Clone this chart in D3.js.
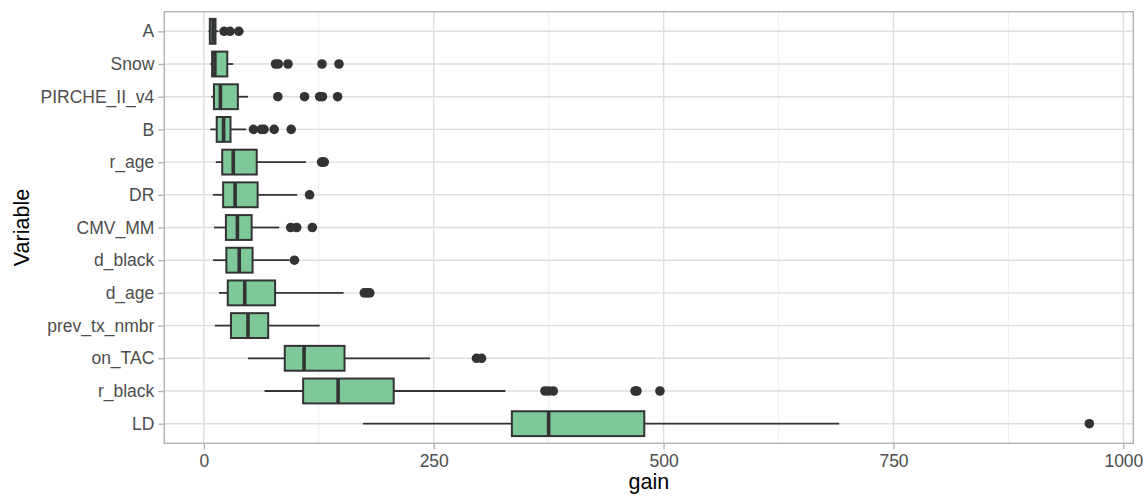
<!DOCTYPE html>
<html>
<head>
<meta charset="utf-8">
<script src="https://cdn.jsdelivr.net/npm/d3@7"></script>
<style>
  html, body { margin: 0; padding: 0; background: #ffffff; }
  svg { display: block; font-family: "Liberation Sans", Arial, sans-serif; }
</style>
</head>
<body>
<svg id="chart" width="1146" height="497"></svg>
<script>
// ---- data ----
const categories = ["A", "Snow", "PIRCHE_II_v4", "B", "r_age", "DR", "CMV_MM", "d_black", "d_age", "prev_tx_nmbr", "on_TAC", "r_black", "LD"];
const whiskerLow  = [5,   7,    8,    7,    13,   10,    11,   10,   16.5, 12,  48,  66,  173];
const q1Values    = [6.5, 9,    11,   14,   20,   21,    24,   24.5, 26,   29.5, 88, 108, 335];
const medians     = [10,  12,   18,   21.5, 32,   34,    36.5, 38.5, 44.5, 48,  109, 146, 375];
const q3Values    = [12.7,25.5, 37,   29,   57.5, 58.5,  52,   53,   77.5, 70,  153, 206.5, 479];
const whiskerHigh = [16,  32,   48,   46,   111,  101.5, 82,   93,   152,  126, 246, 328, 691];
const outliers = [
  [22, 28.5, 38],
  [78, 81, 91.5, 128.5, 147],
  [80.5, 109.5, 126, 129, 145.5],
  [54, 62.5, 65.5, 76.5, 95],
  [128, 129.5, 131],
  [115],
  [94.5, 101, 118],
  [98.5],
  [174.5, 177.5, 180.5],
  [],
  [296.5, 302],
  [371, 375, 380, 469, 471, 496],
  [963]
];
const xTicks = [0, 250, 500, 750, 1000];
const xMinor = [125, 375, 625, 875];
const xTitle = "gain";
const yTitle = "Variable";

// ---- layout ----
const panel = { left: 164.3, right: 1133.3, top: 11.7, bottom: 443.3 };
const svg = d3.select("#chart");

const x = d3.scaleLinear().domain([-43, 1010.8]).range([panel.left, panel.right]);
const y = d3.scalePoint().domain(categories).range([panel.top, panel.bottom]).padding(0.6);
const step = y.step();
const boxH = step * 0.76;

const grid = svg.append("g");
grid.selectAll("line.minor").data(xMinor).join("line")
  .attr("x1", d => x(d)).attr("x2", d => x(d))
  .attr("y1", panel.top).attr("y2", panel.bottom)
  .attr("stroke", "#ebebeb").attr("stroke-width", 0.8);
grid.selectAll("line.majx").data(xTicks).join("line")
  .attr("x1", d => x(d)).attr("x2", d => x(d))
  .attr("y1", panel.top).attr("y2", panel.bottom)
  .attr("stroke", "#dedede").attr("stroke-width", 1.4);
grid.selectAll("line.majy").data(categories).join("line")
  .attr("x1", panel.left).attr("x2", panel.right)
  .attr("y1", d => y(d)).attr("y2", d => y(d))
  .attr("stroke", "#dedede").attr("stroke-width", 1.4);

const rows = categories.map((c, i) => ({
  c, lo: whiskerLow[i], q1: q1Values[i], med: medians[i], q3: q3Values[i], hi: whiskerHigh[i], out: outliers[i]
}));

const dark = "#333333";
const g = svg.append("g");
g.selectAll("line.wl").data(rows).join("line")
  .attr("x1", d => x(d.lo)).attr("x2", d => x(d.q1))
  .attr("y1", d => y(d.c)).attr("y2", d => y(d.c))
  .attr("stroke", dark).attr("stroke-width", 1.8);
g.selectAll("line.wh").data(rows).join("line")
  .attr("x1", d => x(d.q3)).attr("x2", d => x(d.hi))
  .attr("y1", d => y(d.c)).attr("y2", d => y(d.c))
  .attr("stroke", dark).attr("stroke-width", 1.8);
g.selectAll("rect.box").data(rows).join("rect")
  .attr("x", d => x(d.q1)).attr("width", d => x(d.q3) - x(d.q1))
  .attr("y", d => y(d.c) - boxH / 2).attr("height", boxH)
  .attr("fill", "#7ec89a").attr("stroke", dark).attr("stroke-width", 2);
g.selectAll("line.med").data(rows).join("line")
  .attr("x1", d => x(d.med)).attr("x2", d => x(d.med))
  .attr("y1", d => y(d.c) - boxH / 2).attr("y2", d => y(d.c) + boxH / 2)
  .attr("stroke", dark).attr("stroke-width", 3.6);
const pts = rows.flatMap(d => d.out.map(v => ({ c: d.c, v })));
g.selectAll("circle.out").data(pts).join("circle")
  .attr("cx", d => x(d.v)).attr("cy", d => y(d.c)).attr("r", 4.8)
  .attr("fill", dark);

svg.append("rect")
  .attr("x", panel.left).attr("y", panel.top)
  .attr("width", panel.right - panel.left).attr("height", panel.bottom - panel.top)
  .attr("fill", "none").attr("stroke", "#b3b3b3").attr("stroke-width", 1.4);

const xAxis = svg.append("g")
  .attr("transform", `translate(0,${panel.bottom})`)
  .call(d3.axisBottom(x).tickValues(xTicks).tickSize(6).tickPadding(5).tickFormat(d3.format("d")));
xAxis.select(".domain").remove();
xAxis.selectAll(".tick line").attr("stroke", "#b3b3b3").attr("stroke-width", 1.4);
xAxis.selectAll(".tick text").attr("fill", "#4d4d4d").style("font-size", "17.5px")
  .style("font-family", "'Liberation Sans', Arial, sans-serif");

const yAxis = svg.append("g")
  .attr("transform", `translate(${panel.left},0)`)
  .call(d3.axisLeft(y).tickSize(6).tickPadding(4));
yAxis.select(".domain").remove();
yAxis.selectAll(".tick line").attr("stroke", "#b3b3b3").attr("stroke-width", 1.4);
yAxis.selectAll(".tick text").attr("fill", "#4d4d4d").style("font-size", "17.5px")
  .style("font-family", "'Liberation Sans', Arial, sans-serif");

svg.append("text")
  .attr("x", (panel.left + panel.right) / 2).attr("y", 489)
  .attr("text-anchor", "middle").attr("fill", "#000")
  .style("font-size", "21.5px").text(xTitle);
svg.append("text")
  .attr("transform", `translate(29,${(panel.top + panel.bottom) / 2}) rotate(-90)`)
  .attr("text-anchor", "middle").attr("fill", "#000")
  .style("font-size", "21.5px").text(yTitle);
</script>
</body>
</html>
